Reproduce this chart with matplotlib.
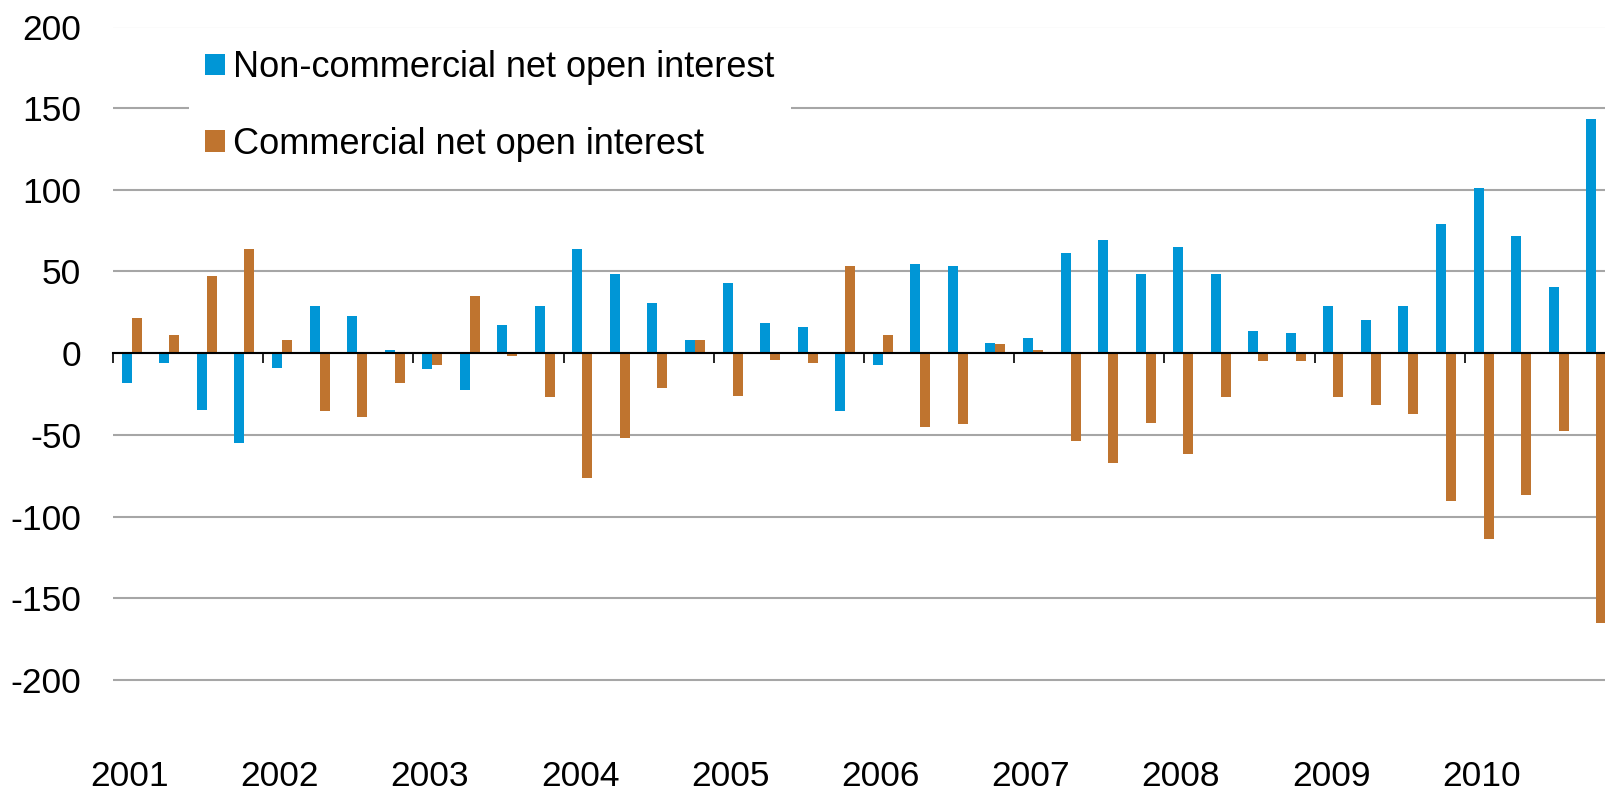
import matplotlib
matplotlib.use('Agg')
import matplotlib.pyplot as plt
import matplotlib.transforms as mtransforms
from matplotlib.patches import Patch
import numpy as np

plt.rcParams['font.family'] = ['Liberation Sans', 'DejaVu Sans']
plt.rcParams['axes.unicode_minus'] = False

# quarterly data, 2001Q1 .. 2010Q4
years = ['2001', '2002', '2003', '2004', '2005', '2006', '2007', '2008', '2009', '2010']
non_commercial = [-18, -6, -34.5, -55,
                  -9, 29, 23, 2,
                  -10, -22.5, 17.5, 29,
                  64, 48.5, 31, 8,
                  43, 18.5, 16, -35.5,
                  -7.5, 54.5, 53.5, 6.5,
                  9, 61.5, 69, 48.5,
                  65, 48.5, 13.5, 12.5,
                  29, 20.5, 29, 79,
                  101, 72, 40.5, 143.5]
commercial = [21.5, 11, 47.5, 64,
              8, -35.5, -39, -18,
              -7.5, 35, -1.5, -27,
              -76.5, -52, -21.5, 8,
              -26, -4, -6, 53.5,
              11, -45, -43.5, 5.5,
              2, -54, -67, -42.5,
              -62, -27, -5, -5,
              -27, -32, -37, -90.5,
              -114, -87, -47.5, -165.5]
labels = ['Non-commercial net open interest', 'Commercial net open interest']

blue = '#0096D6'
orange = '#BF742F'

fig = plt.figure(figsize=(16.05, 7.93), dpi=100)
ax = fig.add_axes([113 / 1605, 1 - 761.5 / 793, 1502 / 1605, 735 / 793])

x = np.arange(len(non_commercial))
w = 0.266
ax.bar(x - w / 2, non_commercial, width=w, color=blue, zorder=2)
ax.bar(x + w / 2, commercial, width=w, color=orange, zorder=2)

ax.set_xlim(-0.5, len(x) - 0.5)
ax.set_ylim(-250, 200)
ax.set_yticks(np.arange(-200, 201, 50))
ax.yaxis.grid(True, color='#A6A6A6', linewidth=1.5)
ax.set_axisbelow(True)
ax.tick_params(axis='y', length=0, pad=23, labelsize=25.5)

for s in ['top', 'right', 'left']:
    ax.spines[s].set_visible(False)
ax.spines['bottom'].set_position(('data', 0))
ax.spines['bottom'].set_linewidth(1.5)
ax.spines['bottom'].set_zorder(3)
ax.set_xticks(np.arange(-0.5, len(x), 4))
ax.set_xticklabels([])
ax.tick_params(axis='x', direction='out', length=7.2, width=1.2)

# year labels sit under the first quarter of each year, at the bottom of the figure
trans = mtransforms.blended_transform_factory(ax.transData, fig.transFigure)
for i, yr in enumerate(years):
    ax.text(i * 4 - 0.06, 1 - 792.5 / 793, yr, transform=trans, ha='center',
            va='bottom', fontsize=25.5)

handles = [Patch(facecolor=blue), Patch(facecolor=orange)]
leg = fig.legend(handles, labels, loc='upper left',
                 bbox_to_anchor=(189 / 1605, 1 - 34 / 793), borderaxespad=0,
                 borderpad=0.45, fontsize=26, handlelength=0.55, handleheight=0.55,
                 handletextpad=0.22, labelspacing=1.15, frameon=True,
                 fancybox=False, framealpha=1)
leg.get_frame().set_edgecolor('none')
leg.get_frame().set_facecolor('white')

fig.savefig('out.png', dpi=100)
